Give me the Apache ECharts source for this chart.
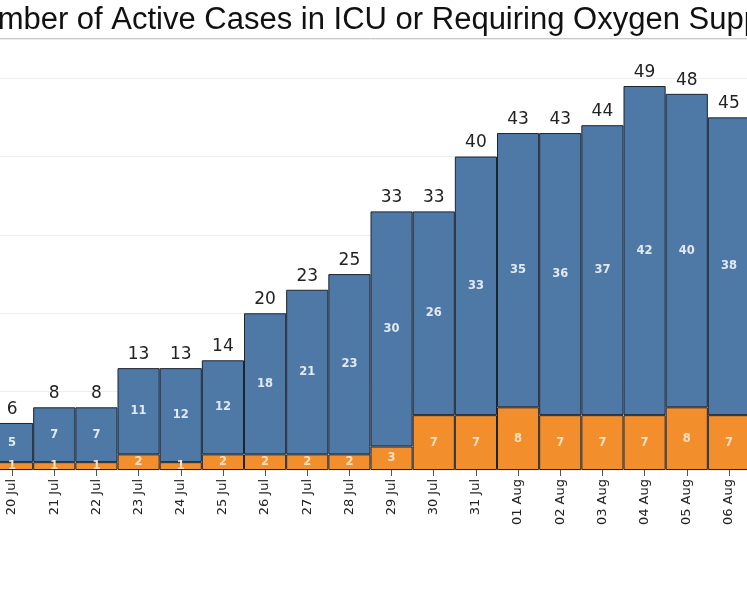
<!DOCTYPE html>
<html>
<head>
<meta charset="utf-8">
<script src="https://cdn.jsdelivr.net/npm/echarts@6/dist/echarts.min.js"></script>
<style>
  html, body { margin: 0; padding: 0; background: #fff; overflow: hidden; }
  /* the chart is a little wider than the window: first and last bars run off the edges */
  #chart { position: absolute; left: -9px; top: 0; width: 759px; height: 598px; }
</style>
</head>
<body>
<div id="chart"></div>
<script>
const dates = [
  "20 Jul", "21 Jul", "22 Jul", "23 Jul", "24 Jul", "25 Jul", "26 Jul",
  "27 Jul", "28 Jul", "29 Jul", "30 Jul", "31 Jul", "01 Aug", "02 Aug",
  "03 Aug", "04 Aug", "05 Aug", "06 Aug"
];
// ICU (orange, bottom) and requiring oxygen (blue, top)
const icuCases = [1, 1, 1, 2, 1, 2, 2, 2, 2, 3, 7, 7, 8, 7, 7, 7, 8, 7];
const oxygenCases = [5, 7, 7, 11, 12, 12, 18, 21, 23, 30, 26, 33, 35, 36, 37, 42, 40, 38];
const totals = [6, 8, 8, 13, 13, 14, 20, 23, 25, 33, 33, 40, 43, 43, 44, 49, 48, 45];

const labelFont = "DejaVu Sans, Verdana, sans-serif";
const chart = echarts.init(document.getElementById("chart"));

const segmentStyle = color => ({
  color: color,
  borderColor: "#1c2430",
  borderWidth: 1
});

const option = {
  animation: false,
  textStyle: { fontFamily: labelFont },
  graphic: [
    {
      type: "text",
      left: -33,
      top: 5,
      style: {
        text: "Number of Active Cases in ICU or Requiring Oxygen Support",
        fontSize: 31,
        fontFamily: "Liberation Sans, Arial, sans-serif",
        fill: "#111"
      }
    },
    {
      type: "line",
      shape: { x1: 0, y1: 38.5, x2: 759, y2: 38.5 },
      style: { stroke: "#c8c8c8", lineWidth: 1 }
    }
  ],
  grid: {
    left: 0,
    right: 0,
    top: 39,
    bottom: 128
  },
  xAxis: {
    type: "category",
    data: dates,
    axisLine: { show: false },
    axisTick: {
      show: true,
      alignWithLabel: true,
      length: 6,
      lineStyle: { color: "#555" }
    },
    axisLabel: {
      rotate: 90,
      interval: 0,
      margin: 9,
      fontSize: 13,
      fontFamily: labelFont,
      color: "#222"
    }
  },
  yAxis: {
    type: "value",
    min: 0,
    max: 55,
    interval: 10,
    axisLabel: { show: false },
    axisLine: { show: false },
    axisTick: { show: false },
    splitLine: { lineStyle: { color: "#eeeeee" } }
  },
  series: [
    {
      name: "Total",
      type: "bar",
      data: totals,
      barWidth: "100%",
      barGap: "-100%",
      itemStyle: { color: "rgba(0,0,0,0)" },
      label: {
        show: true,
        position: "top",
        distance: 5,
        fontSize: 17,
        fontFamily: labelFont,
        color: "#222"
      },
      silent: true,
      z: 1
    },
    {
      name: "ICU",
      type: "bar",
      stack: "cases",
      data: icuCases,
      barWidth: "100%",
      itemStyle: segmentStyle("#f28e2b"),
      label: {
        show: true,
        position: "inside",
        fontSize: 11.5,
        fontWeight: "bold",
        fontFamily: labelFont,
        color: "#fbe0c4"
      },
      z: 2
    },
    {
      name: "Requiring Oxygen",
      type: "bar",
      stack: "cases",
      data: oxygenCases,
      barWidth: "100%",
      itemStyle: segmentStyle("#4e79a7"),
      label: {
        show: true,
        position: "inside",
        fontSize: 11.5,
        fontWeight: "bold",
        fontFamily: labelFont,
        color: "#e2e9f3"
      },
      z: 2
    }
  ]
};

chart.setOption(option);
</script>
</body>
</html>
